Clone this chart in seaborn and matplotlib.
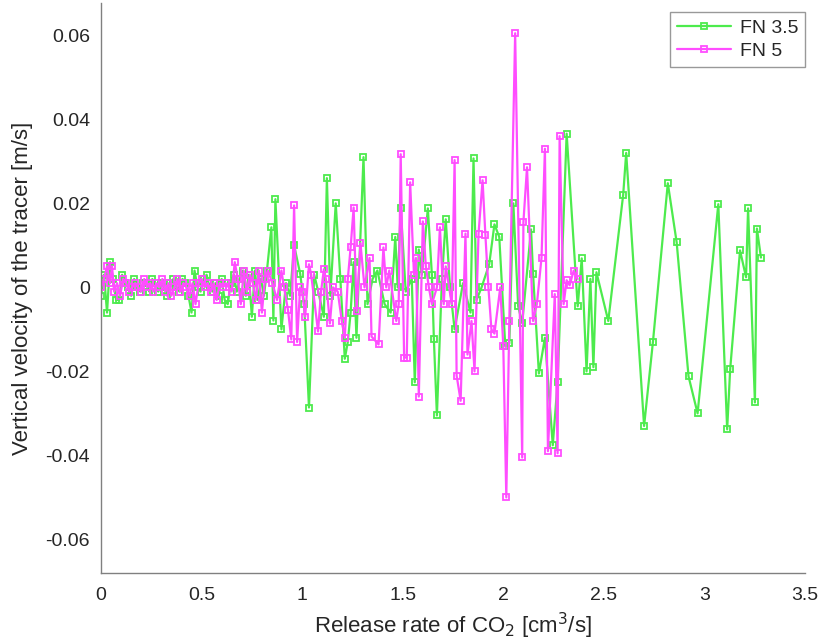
import matplotlib
matplotlib.use("Agg")
import matplotlib.pyplot as plt
import seaborn as sns
import pandas as pd

# FN 3.5 (green)
fn35_x = [0.000, 0.015, 0.030, 0.045, 0.060, 0.075, 0.090, 0.105, 0.120, 0.135,
          0.150, 0.165, 0.180, 0.195, 0.210, 0.225, 0.240, 0.255, 0.270, 0.285,
          0.300, 0.315, 0.330, 0.345, 0.360, 0.375, 0.390, 0.405, 0.420, 0.435,
          0.450, 0.465, 0.480, 0.495, 0.510, 0.525, 0.540, 0.555, 0.570, 0.585,
          0.600, 0.615, 0.630, 0.645, 0.660, 0.675, 0.690, 0.705, 0.720, 0.735,
          0.750, 0.765, 0.780, 0.795, 0.810, 0.825, 0.847, 0.857, 0.867, 0.897,
          0.920, 0.940, 0.960, 0.990, 1.010, 1.034, 1.060, 1.080, 1.108, 1.123,
          1.140, 1.167, 1.190, 1.212, 1.227, 1.241, 1.256, 1.270, 1.305, 1.325,
          1.350, 1.374, 1.410, 1.440, 1.463, 1.475, 1.490, 1.515, 1.545, 1.560,
          1.580, 1.595, 1.625, 1.645, 1.655, 1.670, 1.695, 1.714, 1.735, 1.758,
          1.800, 1.837, 1.852, 1.867, 1.892, 1.930, 1.956, 1.980, 2.010, 2.030,
          2.050, 2.074, 2.094, 2.138, 2.148, 2.177, 2.207, 2.246, 2.270, 2.315,
          2.370, 2.390, 2.414, 2.433, 2.448, 2.463, 2.522, 2.596, 2.611, 2.700,
          2.744, 2.818, 2.862, 2.921, 2.966, 3.069, 3.113, 3.128, 3.177, 3.207,
          3.217, 3.251, 3.261, 3.281]
fn35_y = [-0.002, 0.003, -0.006, 0.006, 0.002, -0.003, -0.003, 0.003, 0.001, 0.000,
          -0.002, 0.002, 0.000, -0.001, 0.001, 0.001, -0.001, 0.002, 0.000, -0.001,
          0.001, 0.000, -0.002, 0.001, 0.002, 0.000, -0.001, 0.002, 0.001, -0.002,
          -0.006, 0.004, 0.000, -0.001, 0.002, 0.003, 0.000, -0.001, 0.001, -0.002,
          0.002, -0.003, -0.004, 0.001, 0.003, -0.001, 0.002, 0.004, -0.002, 0.003,
          -0.007, 0.004, -0.003, 0.002, -0.002, 0.004, 0.0143, -0.0079, 0.021, -0.010,
          0.001, -0.002, 0.010, 0.0033, -0.004, -0.0286, 0.003, -0.001, -0.007, 0.026,
          -0.002, 0.020, 0.002, -0.017, -0.013, -0.006, 0.006, -0.012, 0.031, -0.004,
          0.002, 0.004, -0.004, -0.006, 0.012, 0.000, 0.0188, -0.001, 0.002, -0.0226,
          0.009, 0.003, 0.0188, 0.003, -0.0124, -0.0305, 0.002, 0.0162, 0.000, -0.010,
          0.001, -0.006, 0.0307, -0.003, 0.000, 0.0055, 0.015, 0.012, -0.014, -0.0133,
          0.020, -0.0045, -0.0085, 0.0138, 0.0033, -0.0205, -0.012, -0.0376, -0.0226, 0.0366,
          -0.0045, 0.0069, -0.020, 0.002, -0.019, 0.0036, -0.008, 0.022, 0.032, -0.033,
          -0.013, 0.0248, 0.0107, -0.0212, -0.030, 0.0198, -0.0338, -0.0195, 0.0088, 0.0024,
          0.0188, -0.0274, 0.014, 0.0071]

# FN 5 (magenta)
fn5_x = [0.000, 0.015, 0.030, 0.045, 0.055, 0.065, 0.080, 0.095, 0.110, 0.125,
         0.140, 0.155, 0.170, 0.185, 0.200, 0.215, 0.230, 0.245, 0.260, 0.275,
         0.290, 0.305, 0.320, 0.335, 0.350, 0.365, 0.380, 0.395, 0.410, 0.425,
         0.440, 0.455, 0.470, 0.485, 0.500, 0.515, 0.530, 0.545, 0.560, 0.575,
         0.590, 0.605, 0.620, 0.635, 0.650, 0.665, 0.680, 0.695, 0.710, 0.725,
         0.740, 0.755, 0.770, 0.785, 0.800, 0.815, 0.830, 0.852, 0.875, 0.897,
         0.910, 0.930, 0.946, 0.960, 0.975, 0.990, 1.000, 1.015, 1.034, 1.045,
         1.079, 1.094, 1.108, 1.118, 1.138, 1.153, 1.177, 1.197, 1.212, 1.227,
         1.241, 1.256, 1.271, 1.290, 1.310, 1.335, 1.345, 1.380, 1.404, 1.418,
         1.433, 1.468, 1.480, 1.490, 1.507, 1.520, 1.537, 1.556, 1.566, 1.580,
         1.600, 1.615, 1.630, 1.645, 1.670, 1.685, 1.704, 1.714, 1.744, 1.758,
         1.768, 1.788, 1.812, 1.822, 1.842, 1.857, 1.877, 1.897, 1.911, 1.926,
         1.941, 1.956, 1.985, 2.000, 2.015, 2.030, 2.059, 2.094, 2.100, 2.118,
         2.148, 2.167, 2.190, 2.207, 2.222, 2.256, 2.270, 2.280, 2.300, 2.315,
         2.330, 2.350, 2.370]
fn5_y = [0.000, 0.002, 0.005, 0.001, 0.005, -0.001, 0.001, -0.002, 0.002, 0.001,
         -0.001, 0.000, 0.001, 0.000, -0.001, 0.002, 0.000, 0.001, -0.001, 0.001,
         0.000, 0.002, -0.001, 0.001, -0.002, 0.000, 0.002, -0.001, 0.001, 0.000,
         -0.002, 0.001, -0.004, 0.001, 0.002, 0.000, 0.001, -0.001, 0.001, -0.003,
         0.001, 0.000, 0.001, 0.000, -0.001, 0.006, 0.002, -0.004, 0.004, -0.001,
         0.003, 0.001, -0.003, 0.004, -0.006, 0.002, 0.004, 0.001, -0.003, 0.004,
         0.000, -0.0055, -0.0124, 0.0195, -0.013, 0.000, -0.001, -0.007, 0.0055, 0.003,
         -0.0105, -0.001, 0.0043, 0.002, -0.0086, 0.000, -0.001, -0.008, -0.012, 0.002,
         0.0095, 0.019, -0.0057, 0.0105, 0.000, 0.007, -0.0117, -0.0136, 0.0095, 0.000,
         0.004, -0.008, -0.004, 0.0317, -0.0167, -0.0167, 0.025, 0.003, 0.007, -0.026,
         0.0157, 0.005, 0.000, -0.004, 0.000, 0.0143, -0.004, 0.005, -0.004, 0.0303,
         -0.021, -0.027, 0.0128, -0.016, -0.008, -0.020, 0.0128, 0.0255, 0.0125, 0.000,
         -0.010, -0.011, 0.000, -0.014, -0.050, -0.008, 0.0605, -0.0405, 0.0155, 0.0286,
         -0.008, -0.004, 0.007, 0.033, -0.039, -0.0016, -0.0395, 0.036, -0.004, 0.0017,
         0.0005, 0.004, 0.002]

series_names = ["FN 3.5", "FN 5"]
series_colors = ["#4DEB4D", "#FF4DFF"]

x_ticks = [0, 0.5, 1, 1.5, 2, 2.5, 3, 3.5]
x_tick_labels = ["0", "0.5", "1", "1.5", "2", "2.5", "3", "3.5"]
y_ticks = [-0.06, -0.04, -0.02, 0, 0.02, 0.04, 0.06]
y_tick_labels = ["-0.06", "-0.04", "-0.02", "0", "0.02", "0.04", "0.06"]

df = pd.concat([
    pd.DataFrame({"x": fn35_x, "y": fn35_y, "series": series_names[0], "order": range(len(fn35_x))}),
    pd.DataFrame({"x": fn5_x, "y": fn5_y, "series": series_names[1], "order": range(len(fn5_x))}),
])

sns.set_style("white")
plt.rcParams["font.family"] = ["Liberation Sans", "DejaVu Sans"]

# axes spans pixel 101..805 horizontally and ~3..573 vertically
fig = plt.figure(figsize=(8.23, 6.42), dpi=100)
ax = fig.add_axes([101 / 823, 1 - 573 / 642, 704 / 823, 570 / 642])

for name, color in zip(series_names, series_colors):
    sub = df[df["series"] == name]
    sns.lineplot(data=sub, x="x", y="y", ax=ax, color=color, sort=False,
                 estimator=None, linewidth=1.6, marker="s", markersize=4.5,
                 markerfacecolor="none", markeredgecolor=color,
                 markeredgewidth=1.3, label=name)

ax.set_xlim(0, 3.5)
ax.set_ylim(-0.068, 0.0677)
ax.set_xticks(x_ticks)
ax.set_xticklabels(x_tick_labels)
ax.set_yticks(y_ticks)
ax.set_yticklabels(y_tick_labels)

axis_color = "#262626"
for side in ["top", "right"]:
    ax.spines[side].set_visible(False)
for side in ["left", "bottom"]:
    ax.spines[side].set_color("#808080")
    ax.spines[side].set_linewidth(1.0)
ax.tick_params(direction="in", length=5, width=0.8, color="#808080",
               labelsize=14, labelcolor=axis_color)
ax.tick_params(axis="x", pad=10)
ax.tick_params(axis="y", pad=8)

ax.set_xlabel("Release rate of CO$_2$ [cm$^3$/s]", fontsize=16, color=axis_color, labelpad=5)
ax.set_ylabel("Vertical velocity of the tracer [m/s]", fontsize=16, color=axis_color, labelpad=9)

leg = ax.legend(loc="upper right", bbox_to_anchor=(1.0, 0.984), borderaxespad=0,
                fontsize=14, frameon=True, fancybox=False, edgecolor="#808080",
                handlelength=2.8, handletextpad=0.45, borderpad=0.35, labelspacing=0.3)
leg.get_frame().set_linewidth(1.0)

fig.savefig("out.png", dpi=100, facecolor="white")
